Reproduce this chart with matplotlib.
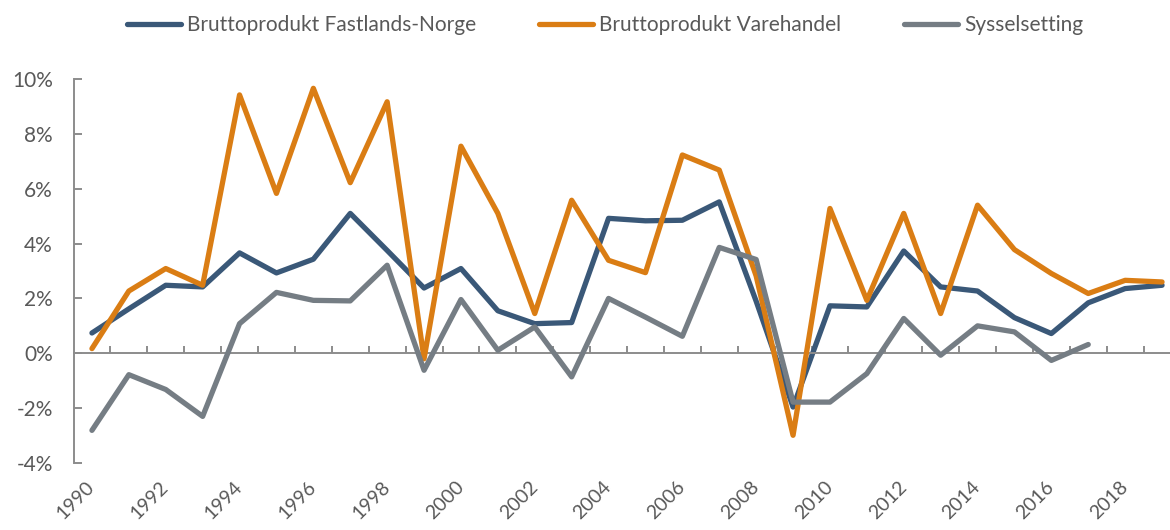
import numpy as np
import matplotlib
matplotlib.use("Agg")
import matplotlib.pyplot as plt

years = list(range(1990, 2020))
fastland = [0.74, 1.62, 2.48, 2.42, 3.66, 2.93, 3.43, 5.10, 3.75, 2.38,
            3.09, 1.55, 1.08, 1.12, 4.92, 4.83, 4.85, 5.52, 1.90, -1.96,
            1.73, 1.69, 3.73, 2.42, 2.27, 1.30, 0.72, 1.84, 2.36, 2.48]
varehandel = [0.17, 2.27, 3.09, 2.48, 9.42, 5.83, 9.66, 6.22, 9.17, -0.20,
              7.55, 5.10, 1.45, 5.58, 3.39, 2.94, 7.23, 6.68, 2.82, -2.99,
              5.28, 1.93, 5.10, 1.45, 5.40, 3.78, 2.91, 2.18, 2.66, 2.60]
sysselsetting = [-2.81, -0.78, -1.32, -2.30, 1.08, 2.22, 1.93, 1.91, 3.21, -0.62,
                 1.96, 0.11, 0.96, -0.86, 2.00, 1.32, 0.62, 3.86, 3.42, -1.78,
                 -1.78, -0.74, 1.27, -0.07, 1.00, 0.78, -0.26, 0.32, np.nan, np.nan]
series_names = ["Bruttoprodukt Fastlands-Norge", "Bruttoprodukt Varehandel", "Sysselsetting"]
colors = ["#3A5878", "#DA7D14", "#757D84"]
ytick_vals = [-4, -2, 0, 2, 4, 6, 8, 10]

plt.rcParams['font.family'] = ['Lato', 'DejaVu Sans']
text_color = "#595959"
axis_color = "#8C8C8C"
fs = 15

fig = plt.figure(figsize=(11.7, 5.3), dpi=100)
ax = fig.add_axes([73.5 / 1170, 1 - 463 / 530, (1180.5 - 73.5) / 1170, (463 - 79) / 530])

x = np.arange(len(years))
for vals, name, c, z in zip([fastland, varehandel, sysselsetting], series_names, colors, [2, 3, 4]):
    ax.plot(x, vals, color=c, lw=3.8, label=name, solid_capstyle='round',
            solid_joinstyle='round', zorder=z, clip_on=False)

ax.set_xlim(-0.5, len(years) - 0.5)
ax.set_ylim(-4, 10)

for s in ['top', 'right']:
    ax.spines[s].set_visible(False)
ax.spines['left'].set_color(axis_color)
ax.spines['left'].set_linewidth(1.4)
ax.spines['bottom'].set_position(('data', 0))
ax.spines['bottom'].set_color(axis_color)
ax.spines['bottom'].set_linewidth(1.4)

ax.set_yticks(ytick_vals)
ax.set_yticklabels([f"{v}%" for v in ytick_vals])
ax.tick_params(axis='y', direction='in', length=6, width=1.4, color=axis_color,
               labelsize=fs, labelcolor=text_color, pad=15)

ax.set_xticks(x[:-1] + 0.5)
ax.set_xticklabels([])
ax.tick_params(axis='x', direction='in', length=5, width=1.4, color=axis_color)

sec = ax.secondary_xaxis('bottom')
sec.set_xticks(x[::2])
sec.set_xticklabels([str(y) for y in years[::2]])
sec.spines['bottom'].set_visible(False)
sec.tick_params(axis='x', length=0, pad=15, labelsize=14, labelcolor=text_color)
for lbl in sec.get_xticklabels():
    lbl.set_rotation(45)
    lbl.set_ha('right')
    lbl.set_va('center')
    lbl.set_rotation_mode('anchor')

leg = fig.legend(loc='center', bbox_to_anchor=(0.517, 0.953), ncol=3, frameon=False,
                 fontsize=fs, handlelength=2.6, handletextpad=0.3, columnspacing=3.0,
                 labelcolor=text_color)

fig.savefig("out.png", dpi=100)
